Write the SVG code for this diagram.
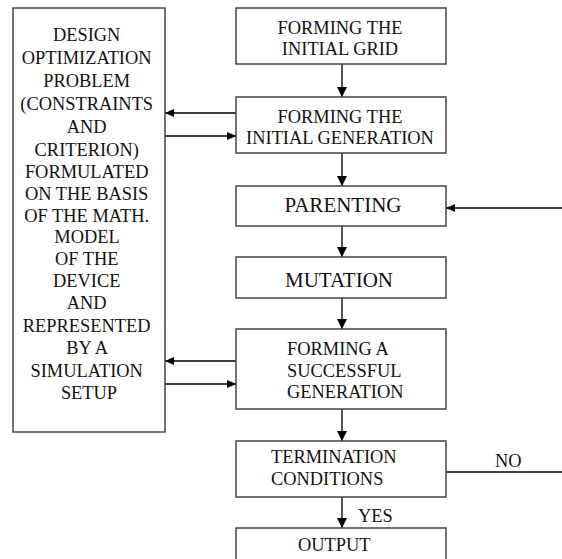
<svg xmlns="http://www.w3.org/2000/svg" width="562" height="559" viewBox="0 0 562 559">
<style>
.box{fill:#fff;stroke:#444;stroke-width:1.5}
.t{font-size:18.4px;fill:#111}
.c{text-anchor:middle}
.big{font-size:21px}
.v{stroke:#555;stroke-width:2;fill:none}
.h{stroke:#000;stroke-width:1.3;fill:none}
</style>
<defs>
<marker id="av" markerUnits="userSpaceOnUse" markerWidth="12" markerHeight="12" refX="10" refY="5" orient="auto">
<path d="M0,0 L10,5 L0,10 Z" fill="#000"/>
</marker>
<marker id="ah" markerUnits="userSpaceOnUse" markerWidth="10" markerHeight="10" refX="9" refY="4" orient="auto">
<path d="M0,0 L9,4 L0,8 Z" fill="#000"/>
</marker>
</defs>
<rect width="562" height="559" fill="#fff"/>
<g font-family="Liberation Serif, serif">
<g id="connectors">
<line class="v" x1="342" y1="64" x2="342" y2="97" marker-end="url(#av)"/>
<line class="v" x1="342" y1="153" x2="342" y2="186" marker-end="url(#av)"/>
<line class="v" x1="342" y1="226" x2="342" y2="257" marker-end="url(#av)"/>
<line class="v" x1="342" y1="298" x2="342" y2="329" marker-end="url(#av)"/>
<line class="v" x1="342" y1="409" x2="342" y2="441" marker-end="url(#av)"/>
<line class="v" x1="342" y1="497" x2="342" y2="528" marker-end="url(#av)"/>
<line class="h" x1="562" y1="208" x2="446" y2="208" marker-end="url(#ah)"/>
<line class="h" x1="446" y1="472" x2="562" y2="472"/>
<line class="h" x1="236" y1="113" x2="165" y2="113" marker-end="url(#ah)"/>
<line class="h" x1="165" y1="136" x2="236" y2="136" marker-end="url(#ah)"/>
<line class="h" x1="236" y1="361" x2="165" y2="361" marker-end="url(#ah)"/>
<line class="h" x1="165" y1="384" x2="236" y2="384" marker-end="url(#ah)"/>
<text class="t" x="495" y="467" font-size="19.5">NO</text>
<text class="t" x="358" y="522" font-size="20.5">YES</text>
</g>
<g id="problem">
<rect class="box" x="13" y="8" width="152" height="424"/>
<text class="t c" x="89">
<tspan x="89" y="41">DESIGN</tspan>
<tspan x="89" y="64">OPTIMIZATION</tspan>
<tspan x="89" y="87">PROBLEM</tspan>
<tspan x="89" y="110">(CONSTRAINTS</tspan>
<tspan x="89" y="133">AND</tspan>
<tspan x="89" y="156">CRITERION)</tspan>
<tspan x="89" y="178">FORMULATED</tspan>
<tspan x="89" y="200">ON THE BASIS</tspan>
<tspan x="89" y="222">OF THE MATH.</tspan>
<tspan x="89" y="243">MODEL</tspan>
<tspan x="89" y="265">OF THE</tspan>
<tspan x="89" y="287">DEVICE</tspan>
<tspan x="89" y="309">AND</tspan>
<tspan x="89" y="332">REPRESENTED</tspan>
<tspan x="89" y="354">BY A</tspan>
<tspan x="89" y="377">SIMULATION</tspan>
<tspan x="89" y="399">SETUP</tspan>
</text>
</g>
<g id="grid">
<rect class="box" x="236" y="8" width="210" height="56"/>
<text class="t c"><tspan x="340" y="34">FORMING THE</tspan><tspan x="340" y="55">INITIAL GRID</tspan></text>
</g>
<g id="initgen">
<rect class="box" x="236" y="97" width="210" height="56"/>
<text class="t c"><tspan x="340" y="123">FORMING THE</tspan><tspan x="340" y="144">INITIAL GENERATION</tspan></text>
</g>
<g id="parenting">
<rect class="box" x="236" y="186" width="210" height="40"/>
<text class="t c big" x="343" y="212">PARENTING</text>
</g>
<g id="mutation">
<rect class="box" x="236" y="257" width="210" height="41"/>
<text class="t c big" x="339" y="287">MUTATION</text>
</g>
<g id="successful">
<rect class="box" x="236" y="329" width="210" height="80"/>
<text class="t"><tspan x="287" y="355">FORMING A</tspan><tspan x="287" y="377">SUCCESSFUL</tspan><tspan x="287" y="398">GENERATION</tspan></text>
</g>
<g id="termination">
<rect class="box" x="236" y="441" width="210" height="56"/>
<text class="t"><tspan x="271" y="463">TERMINATION</tspan><tspan x="271" y="485">CONDITIONS</tspan></text>
</g>
<g id="output">
<rect class="box" x="236" y="528" width="210" height="40"/>
<text class="t" x="298" y="551">OUTPUT</text>
</g>
</g>
</svg>
